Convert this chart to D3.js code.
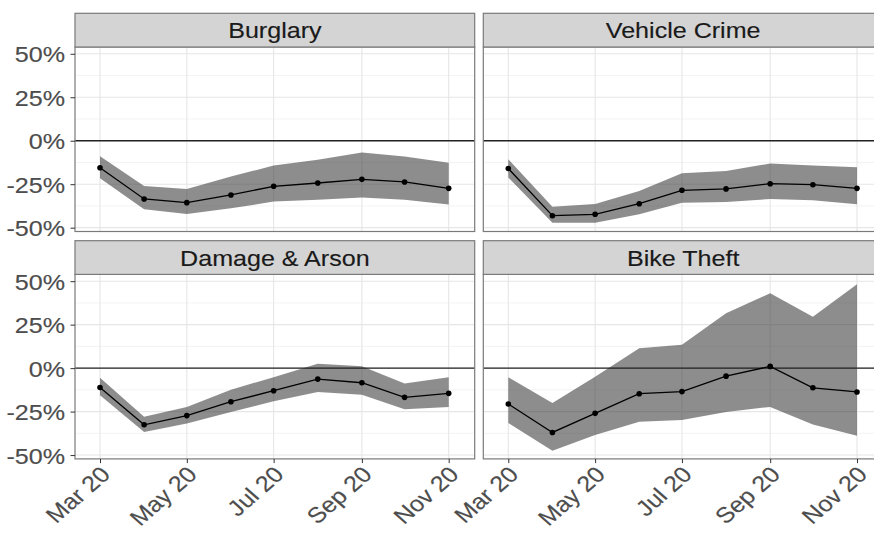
<!DOCTYPE html>
<html><head><meta charset="utf-8">
<script src="https://cdn.jsdelivr.net/npm/d3@7"></script>
<style>body{margin:0;background:#fff}svg{display:block}</style></head>
<body>
<script>
// ---- data ----
const months = ["2020-03-01","2020-04-01","2020-05-01","2020-06-01","2020-07-01","2020-08-01","2020-09-01","2020-10-01","2020-11-01"];
const categories = ["Burglary","Vehicle Crime","Damage & Arson","Bike Theft"];
const burglaryEst = [-15.5,-33.5,-35.6,-31.2,-26.2,-24.3,-22.2,-23.7,-27.4];
const burglaryLo  = [-21.6,-39.4,-42.1,-38.9,-35.0,-34.0,-32.7,-34.0,-36.7];
const burglaryHi  = [-8.9,-26.0,-27.7,-20.6,-14.3,-11.0,-6.8,-9.1,-12.6];
const vehicleEst  = [-16.0,-43.1,-42.3,-36.2,-28.5,-27.7,-24.7,-25.3,-27.4];
const vehicleLo   = [-21.2,-47.1,-47.1,-42.3,-35.6,-35.2,-33.5,-34.3,-36.6];
const vehicleHi   = [-10.7,-37.9,-36.4,-28.9,-18.7,-17.4,-13.1,-14.3,-15.3];
const damageEst   = [-11.1,-32.6,-27.3,-19.3,-13.0,-6.3,-8.4,-16.8,-14.5];
const damageLo    = [-15.6,-36.8,-31.9,-25.2,-19.1,-13.7,-15.3,-23.7,-22.3];
const damageHi    = [-5.5,-28.0,-22.3,-12.4,-5.2,2.5,1.1,-8.8,-5.2];
const bikeEst     = [-20.6,-37.0,-26.0,-14.7,-13.5,-4.6,1.0,-11.3,-13.7];
const bikeLo      = [-31.5,-47.5,-38.5,-30.9,-29.8,-25.2,-22.3,-32.4,-38.9];
const bikeHi      = [-5.2,-20.0,-5.0,11.5,13.4,31.5,43.1,29.6,48.3];
const xTickDates  = ["2020-03-01","2020-05-01","2020-07-01","2020-09-01","2020-11-01"];
const yTicks      = [-50,-25,0,25,50];
const yMinorTicks = [-37.5,-12.5,12.5,37.5];

const estimates = [burglaryEst, vehicleEst, damageEst, bikeEst];
const lowers = [burglaryLo, vehicleLo, damageLo, bikeLo];
const uppers = [burglaryHi, vehicleHi, damageHi, bikeHi];

// ---- layout ----
const W = 874, H = 534;
const FONT = "'Liberation Sans', Arial, sans-serif";
const SX = 1.14;
const colX = [75, 483.3], panelW = 399.7;
const stripTop = [13.3, 240.7], stripH = 33.7, panelH = 184.5;
const parse = d3.timeParse("%Y-%m-%d");
const dates = months.map(parse);
const tickDates = xTickDates.map(parse);

const svg = d3.select("body").append("svg").attr("width", W).attr("height", H)
  .style("font-family", FONT);

categories.forEach((cat, i) => {
  const col = i % 2, row = Math.floor(i / 2);
  const x0 = colX[col];
  const sTop = stripTop[row];
  const pTop = sTop + stripH, pBot = pTop + panelH;
  const x = d3.scaleTime().domain([dates[0], dates[dates.length-1]]).range([x0 + 25, x0 + 373.7]);
  const y = d3.scaleLinear().domain([-52.2, 53.9]).range([pBot, pTop]);
  const g = svg.append("g");

  g.append("rect").attr("x", x0).attr("y", pTop).attr("width", panelW).attr("height", panelH).attr("fill", "#fff");
  g.selectAll(".ymin").data(yMinorTicks).join("line")
    .attr("x1", x0).attr("x2", x0 + panelW).attr("y1", d => y(d)).attr("y2", d => y(d))
    .attr("stroke", "#f0f0f0").attr("stroke-width", 0.8);
  g.selectAll(".ymaj").data(yTicks).join("line")
    .attr("x1", x0).attr("x2", x0 + panelW).attr("y1", d => y(d)).attr("y2", d => y(d))
    .attr("stroke", "#e6e6e6").attr("stroke-width", 1.1);
  g.selectAll(".xmaj").data(tickDates).join("line")
    .attr("x1", d => x(d)).attr("x2", d => x(d)).attr("y1", pTop).attr("y2", pBot)
    .attr("stroke", "#e6e6e6").attr("stroke-width", 1.1);

  const rows = dates.map((d, k) => ({d, est: estimates[i][k], lo: lowers[i][k], hi: uppers[i][k]}));
  g.append("path").datum(rows)
    .attr("d", d3.area().x(r => x(r.d)).y0(r => y(r.lo)).y1(r => y(r.hi)))
    .attr("fill", "#333").attr("fill-opacity", 0.56);
  g.append("line").attr("x1", x0).attr("x2", x0 + panelW).attr("y1", y(0)).attr("y2", y(0))
    .attr("stroke", "#222").attr("stroke-width", 1.3);
  g.append("path").datum(rows)
    .attr("d", d3.line().x(r => x(r.d)).y(r => y(r.est)))
    .attr("fill", "none").attr("stroke", "#000").attr("stroke-width", 1.3);
  g.selectAll(".pt").data(rows).join("circle")
    .attr("cx", r => x(r.d)).attr("cy", r => y(r.est)).attr("r", 2.8).attr("fill", "#000");
  g.append("rect").attr("x", x0).attr("y", pTop).attr("width", panelW).attr("height", panelH)
    .attr("fill", "none").attr("stroke", "#7a7a7a").attr("stroke-width", 1.2);

  // strip
  g.append("rect").attr("x", x0).attr("y", sTop).attr("width", panelW).attr("height", stripH)
    .attr("fill", "#d4d4d4").attr("stroke", "#7a7a7a").attr("stroke-width", 1.2);
  g.append("text").attr("transform", `translate(${x0 + panelW/2},${sTop + stripH/2 + 8}) scale(${SX},1)`)
    .attr("text-anchor", "middle").attr("font-size", 22).attr("fill", "#1a1a1a")
    .attr("stroke", "#1a1a1a").attr("stroke-width", 0.15).text(cat);

  if (col === 0) {
    const ay = g.append("g").attr("transform", `translate(${x0},0)`)
      .call(d3.axisLeft(y).tickValues(yTicks).tickFormat(d => d + "%").tickSize(4.5));
    ay.select(".domain").remove();
    ay.selectAll("line").attr("stroke", "#333");
    ay.selectAll("text").attr("x", null).attr("dy", null)
      .attr("transform", `translate(-10,8) scale(${SX},1)`)
      .attr("text-anchor", "end").attr("font-size", 22).attr("font-family", FONT).attr("fill", "#4d4d4d")
      .attr("stroke", "#4d4d4d").attr("stroke-width", 0.15);
  }
  if (row === 1) {
    const ax = g.append("g").attr("transform", `translate(0,${pBot})`)
      .call(d3.axisBottom(x).tickValues(tickDates).tickFormat(d3.timeFormat("%b %y")).tickSize(4.2));
    ax.select(".domain").remove();
    ax.selectAll("line").attr("stroke", "#333");
    ax.selectAll("text").attr("y", null).attr("dy", null)
      .attr("transform", `translate(11,17) scale(${SX},1) rotate(-45)`)
      .attr("text-anchor", "end").attr("font-size", 22).attr("font-family", FONT).attr("fill", "#4d4d4d")
      .attr("stroke", "#4d4d4d").attr("stroke-width", 0.15);
  }
});
</script>
</body></html>
